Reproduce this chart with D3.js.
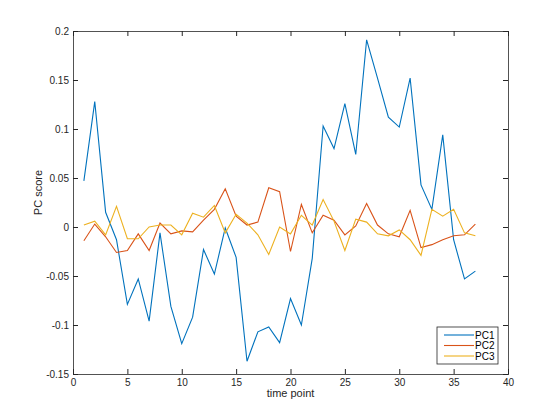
<!DOCTYPE html>
<html>
<head>
<meta charset="utf-8">
<script src="https://cdn.jsdelivr.net/npm/d3@7"></script>
<style>
	body { margin: 0; background: #fff; }
	text { font-family: "Liberation Sans", Arial, Helvetica, sans-serif; }
	.axis path, .axis line { stroke: #262626; }
	.axis text { fill: #262626; font-size: 10px; }
</style>
</head>
<body>
<div id="graphic"></div>
<script>
// time points 1..37
const timePoints = d3.range(1, 38);

const pc1 = [0.047, 0.128, 0.015, -0.013, -0.079, -0.053, -0.096, -0.006, -0.081, -0.119,
	-0.092, -0.023, -0.048, -0.001, -0.031, -0.137, -0.107, -0.102, -0.118, -0.073,
	-0.100, -0.032, 0.103, 0.080, 0.126, 0.074, 0.191, 0.152, 0.112, 0.102,
	0.152, 0.043, 0.018, 0.094, -0.013, -0.053, -0.045];

const pc2 = [-0.014, 0.003, -0.010, -0.026, -0.024, -0.007, -0.024, 0.004, -0.007, -0.004,
	-0.005, 0.007, 0.018, 0.039, 0.011, 0.002, 0.005, 0.040, 0.036, -0.025,
	0.023, -0.006, 0.012, 0.007, -0.008, 0.001, 0.024, 0.002, -0.007, -0.010,
	0.017, -0.021, -0.018, -0.013, -0.009, -0.008, 0.003];

const pc3 = [0.002, 0.006, -0.008, 0.021, -0.012, -0.012, 0.000, 0.002, 0.002, -0.008,
	0.014, 0.010, 0.022, -0.006, 0.013, 0.004, -0.008, -0.028, 0.000, -0.007,
	0.012, 0.002, 0.028, 0.006, -0.024, 0.008, 0.005, -0.007, -0.009, -0.003,
	-0.013, -0.029, 0.018, 0.011, 0.018, -0.006, -0.009];

const seriesNames = ['PC1', 'PC2', 'PC3'];
const seriesColours = ['#0072BD', '#D95319', '#EDB120'];
const xTicks = [0, 5, 10, 15, 20, 25, 30, 35, 40];
const yTicks = [-0.15, -0.1, -0.05, 0, 0.05, 0.1, 0.15, 0.2];

const width = 560, height = 420;
const margin = { top: 31, right: 52, bottom: 46, left: 73 };
const chart_width = width - margin.left - margin.right;
const chart_height = height - margin.top - margin.bottom;

const svg = d3.select('#graphic').append('svg')
	.attr('width', width)
	.attr('height', height)
	.append('g')
	.attr('transform', 'translate(' + margin.left + ',' + margin.top + ')');

const x = d3.scaleLinear().domain([0, 40]).range([0, chart_width]);
const y = d3.scaleLinear().domain([-0.15, 0.2]).range([chart_height, 0]);

const fmt = d => d3.format('~g')(d).replace('−', '-');

// axes: ticks inside, box on all four sides
svg.append('g')
	.attr('class', 'axis')
	.attr('transform', 'translate(0,' + chart_height + ')')
	.call(d3.axisBottom(x).tickValues(xTicks).tickSize(-5).tickPadding(5).tickFormat(fmt));

svg.append('g')
	.attr('class', 'axis')
	.call(d3.axisTop(x).tickValues(xTicks).tickSize(-5).tickFormat(''));

svg.append('g')
	.attr('class', 'axis')
	.call(d3.axisLeft(y).tickValues(yTicks).tickSize(-5).tickPadding(4).tickFormat(fmt));

svg.append('g')
	.attr('class', 'axis')
	.attr('transform', 'translate(' + chart_width + ',0)')
	.call(d3.axisRight(y).tickValues(yTicks).tickSize(-5).tickFormat(''));

svg.selectAll('.axis .domain').attr('stroke-width', 0.8);

// lines
const line = d3.line()
	.x((d, i) => x(timePoints[i]))
	.y(d => y(d));

[pc1, pc2, pc3].forEach((s, i) => {
	svg.append('path')
		.attr('d', line(s))
		.attr('fill', 'none')
		.attr('stroke', seriesColours[i])
		.attr('stroke-width', 1.1);
});

// axis labels
svg.append('text')
	.attr('x', chart_width / 2)
	.attr('y', chart_height + 23)
	.attr('text-anchor', 'middle')
	.attr('font-size', '11px')
	.attr('fill', '#262626')
	.text('time point');

svg.append('text')
	.attr('transform', 'translate(-31,' + (chart_height / 2 - 10) + ') rotate(-90)')
	.attr('text-anchor', 'middle')
	.attr('font-size', '11px')
	.attr('fill', '#262626')
	.text('PC score');

// legend
const legend = svg.append('g')
	.attr('transform', 'translate(' + (chart_width - 71) + ',' + (chart_height - 47) + ')');

legend.append('rect')
	.attr('width', 61)
	.attr('height', 37)
	.attr('fill', '#fff')
	.attr('stroke', '#262626')
	.attr('stroke-width', 0.8);

seriesNames.forEach((name, i) => {
	const row = legend.append('g').attr('transform', 'translate(0,' + (8 + i * 10.5) + ')');
	row.append('line')
		.attr('x1', 7).attr('x2', 37)
		.attr('stroke', seriesColours[i])
		.attr('stroke-width', 1.1);
	row.append('text')
		.attr('x', 38)
		.attr('dy', '0.35em')
		.attr('font-size', '10px')
		.attr('fill', '#000')
		.text(name);
});
</script>
</body>
</html>
